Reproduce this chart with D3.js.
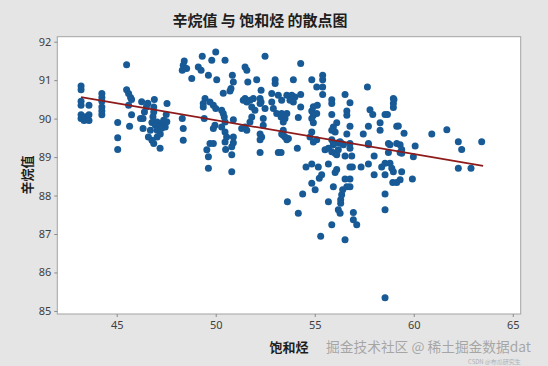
<!DOCTYPE html>
<html><head><meta charset="utf-8">
<script src="https://cdn.jsdelivr.net/npm/d3@7/dist/d3.min.js"></script>
<style>
html,body{margin:0;padding:0;background:#e5e5e5;}
svg{display:block;}
</style></head>
<body>
<svg id="chart" width="548" height="366"></svg>
<script>
// ---- data ----
const saturates = [
43.2,43.2,43.2,43.2,43.2,43.2,43.35,43.45,43.6,43.6,43.6,44.25,44.25,44.25,44.25,44.25,44.25,
45.05,45.05,45.05,45.5,45.5,45.6,45.7,45.75,45.6,45.75,45.65,
46.33,46.4,46.5,46.57,46.9,46.87,46.87,46.83,46.78,46.95,47.04,46.33,46.6,46.78,47.04,47.2,47.29,47.37,47.5,47.54,47.2,47.45,46.7,47.04,46.87,46.26,47.53,47.27,47.19,46.2,
48.41,48.36,48.31,48.53,48.79,49.12,49.26,49.32,49.63,49.8,50.0,50.05,50.47,50.84,50.89,50.77,50.72,51.48,51.57,51.62,52.07,52.49,53.0,53.0,52.29,52.24,52.24,52.83,53.16,53.33,
49.46,49.37,49.37,49.71,49.88,50.0,50.3,50.38,50.43,50.47,49.96,49.88,50.3,50.47,50.55,50.47,50.89,50.89,49.71,49.88,48.31,48.36,48.36,49.42,50.89,51.39,51.48,51.57,51.73,51.9,51.82,51.98,51.82,51.73,51.48,51.31,51.57,52.29,52.49,52.4,52.4,52.24,52.32,52.83,52.91,53.08,53.3,53.41,53.33,53.5,
49.55,49.63,49.63,50.81,50.81,52.24,53.16,53.3,50.5,50.81,50.38,
54.29,53.92,54.85,55.4,55.4,55.1,55.4,55.4,57.66,56.53,56.78,55.86,55.86,53.59,53.84,54.0,53.75,53.92,54.29,54.29,53.59,53.5,53.33,54.17,54.85,54.93,54.85,54.93,55.13,55.1,55.86,56.62,56.62,56.11,55.94,55.86,56.03,56.78,56.62,57.45,57.71,57.79,57.93,58.55,58.67,58.3,58.3,58.97,58.97,58.97,59.14,54.85,54.76,54.93,55.86,55.94,56.19,56.36,56.78,57.71,58.72,59.14,53.41,53.41,53.67,55.1,54.93,
52.24,53.59,54.12,55.52,55.69,55.86,56.03,56.11,56.19,55.94,56.28,56.45,56.53,56.87,56.78,57.71,58.72,59.31,59.31,59.51,
54.56,54.85,55.18,55.69,56.11,56.03,56.78,56.9,57.34,57.71,58.0,58.0,58.38,58.55,58.55,58.8,58.89,58.97,58.94,59.14,59.31,59.39,59.93,
54.85,55.02,55.23,55.35,55.94,54.39,53.62,54.17,55.69,55.86,55.3,56.53,56.41,56.36,56.31,56.31,56.19,56.28,56.53,56.78,56.62,56.78,56.95,56.95,57.12,58.55,58.55,58.55,
59.0,60.91,61.67,62.25,62.42,63.43,62.25,62.89,60.07,59.98,59.39,59.39,58.8,59.22
];
const octane = [
90.85,90.75,90.45,90.35,90.1,90.0,89.95,90.05,90.35,90.1,89.95,90.65,90.55,90.45,90.3,90.2,90.1,
89.9,89.5,89.2,91.4,90.75,90.65,90.55,90.5,90.35,90.1,89.8,
90.0,90.17,90.3,90.4,90.5,90.3,90.17,90.05,89.9,89.83,89.91,89.74,89.52,89.44,89.52,89.6,89.87,89.96,90.11,90.39,89.78,89.78,89.7,89.7,89.35,90.44,89.92,89.75,89.23,90.0,
91.5,91.39,91.26,91.3,91.04,91.34,91.26,91.62,91.13,91.52,91.73,91.01,91.52,91.13,90.95,90.78,90.72,91.34,91.26,90.95,91.01,91.62,91.01,90.91,90.74,90.52,90.39,90.65,90.61,90.48,
90.52,90.39,90.3,90.43,90.35,90.26,90.22,90.13,90.04,89.91,89.83,89.74,89.78,89.65,89.52,89.39,89.52,89.37,89.35,89.35,90.0,89.74,89.44,90.0,89.97,90.48,90.52,90.43,90.48,90.52,90.3,90.22,90.04,89.91,89.78,89.74,89.7,90.43,90.26,90.0,89.83,89.6,89.52,90.43,90.26,90.13,90.04,89.91,89.6,89.52,
89.19,89.01,88.71,89.06,88.62,89.12,89.12,89.12,89.2,89.27,90.66,
91.43,91.01,91.01,91.13,91.01,90.82,90.82,90.63,90.82,90.63,90.41,90.49,90.39,90.61,90.61,90.56,90.48,90.43,90.63,90.3,90.13,90.0,90.13,90.03,90.2,90.09,90.0,89.89,90.35,90.13,90.11,90.2,90.09,89.89,89.78,89.7,89.65,89.8,89.6,89.6,89.8,90.23,90.11,90.11,90.11,89.89,89.7,90.52,90.39,90.29,89.8,89.65,89.52,89.39,89.45,89.35,89.37,89.35,89.35,89.35,89.35,89.35,89.7,89.57,89.48,89.45,90.31,
89.45,89.45,89.23,89.19,89.23,89.14,89.1,89.06,89.19,89.32,89.4,89.32,89.03,89.03,89.23,89.32,89.12,89.32,89.12,89.62,
88.74,88.82,88.74,88.82,88.68,88.6,88.74,88.74,88.74,88.82,89.03,88.54,88.74,88.54,88.84,88.84,88.71,88.62,88.34,88.34,88.41,88.62,88.43,
88.32,88.15,88.45,88.54,88.23,88.04,87.84,87.54,87.84,87.24,86.94,86.85,88.15,88.02,87.89,87.8,87.63,87.54,88.43,88.43,88.23,88.23,87.56,87.37,87.24,88.04,87.63,85.34,
90.5,89.6,89.71,89.4,89.2,89.4,88.71,88.71,89.29,89.01,89.2,89.1,89.32,89.81
];
const fitX = [43.2, 63.5];
const fitY = [90.56, 88.77];
const xTicks = [45, 50, 55, 60, 65];
const yTicks = [85, 86, 87, 88, 89, 90, 91, 92];
const titleText = "辛烷值 与 饱和烃 的散点图";
const xTitle = "饱和烃";
const yTitle = "辛烷值";

// ---- drawing ----
const svg = d3.select("#chart");
const L = 57.3, R = 520.7, T = 36.7, B = 314;
const x = d3.scaleLinear().domain([42, 65.4]).range([L, R]);
const y = d3.scaleLinear().domain([84.92, 92.13]).range([B, T]);

svg.append("rect").attr("x",0).attr("y",0).attr("width",548).attr("height",366).attr("fill","#e5e5e5");
svg.append("rect").attr("x",L).attr("y",T).attr("width",R-L).attr("height",B-T)
  .attr("fill","#ffffff").attr("stroke","#a3a3a3").attr("stroke-width",1);

const tickFont = "'Noto Sans','Open Sans',sans-serif";
const xAxis = svg.append("g").attr("transform",`translate(0,${B})`)
  .call(d3.axisBottom(x).tickValues(xTicks).tickSize(3).tickPadding(4).tickFormat(d3.format("d")));
const yAxis = svg.append("g").attr("transform",`translate(${L},0)`)
  .call(d3.axisLeft(y).tickValues(yTicks).tickSize(3).tickPadding(3).tickFormat(d3.format("d")));
[xAxis, yAxis].forEach(a => {
  a.select(".domain").remove();
  a.selectAll(".tick line").attr("stroke","#8a8a8a");
  a.selectAll(".tick text").attr("fill","#404040").style("font-family",tickFont).style("font-size","11px");
});

const pts = saturates.map((s,i)=>({s, o: octane[i]}));
svg.append("g").selectAll("circle").data(pts).join("circle")
  .attr("cx", d=>x(d.s)).attr("cy", d=>y(d.o)).attr("r", 3.5)
  .attr("fill", "#185a96");

svg.append("path")
  .datum(fitX.map((v,i)=>[v, fitY[i]]))
  .attr("d", d3.line().x(d=>x(d[0])).y(d=>y(d[1])))
  .attr("stroke","#8e1b1b").attr("stroke-width",1.8).attr("fill","none");

const cjk = "'Noto Sans CJK SC','Noto Sans',sans-serif";
svg.append("text").attr("x",260).attr("y",26).attr("text-anchor","middle")
  .style("font-family",cjk).style("font-weight","bold").style("font-size","15px").attr("fill","#1e1e1e")
  .text(titleText);
svg.append("text").attr("x",289).attr("y",352).attr("text-anchor","middle")
  .style("font-family",cjk).style("font-weight","bold").style("font-size","13px").attr("fill","#1e1e1e")
  .text(xTitle);
svg.append("text").attr("transform","translate(32,175) rotate(-90)").attr("text-anchor","middle")
  .style("font-family",cjk).style("font-weight","bold").style("font-size","13px").attr("fill","#1e1e1e")
  .text(yTitle);

// watermark
svg.append("text").attr("x",326).attr("y",352)
  .attr("textLength",205).attr("lengthAdjust","spacingAndGlyphs")
  .style("font-family",cjk).style("font-size","13.5px").attr("fill","#9a9a9a").attr("fill-opacity",0.85)
  .text("掘金技术社区 @ 稀土掘金数据dat");
svg.append("text").attr("x",468).attr("y",364)
  .style("font-family",cjk).style("font-size","6px").attr("fill","#b0b0b0")
  .text("CSDN @布瓜研究生");
</script>
</body></html>
